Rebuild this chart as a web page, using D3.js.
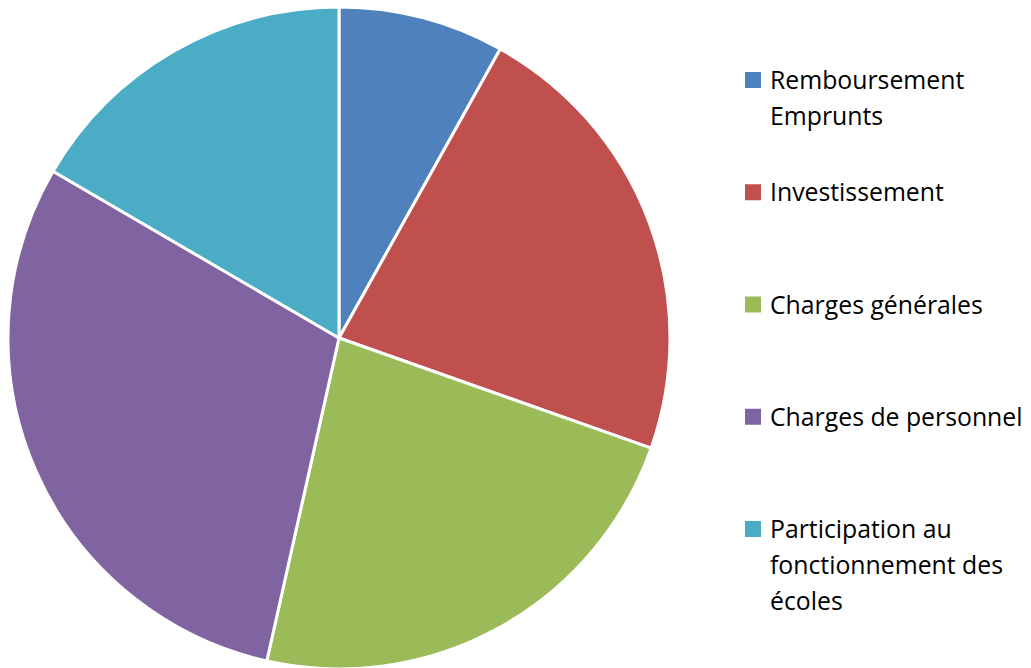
<!DOCTYPE html>
<html>
<head>
<meta charset="utf-8">
<script src="https://cdn.jsdelivr.net/npm/d3@7"></script>
<style>
  body { margin: 0; background: #fff; }
  svg { display: block; }
</style>
</head>
<body>
<div id="chart"></div>
<script>
// Data (shares in %)
const categories = ["Remboursement Emprunts", "Investissement", "Charges générales", "Charges de personnel", "Participation au fonctionnement des écoles"];
const values = [8.1, 22.3, 23.1, 29.9, 16.6];
const colors = ["#4F81BD", "#C0504D", "#9BBB59", "#8064A2", "#4BACC6"];
// legend labels as they wrap in the original
const legendLines = [["Remboursement", "Emprunts"], ["Investissement"], ["Charges générales"], ["Charges de personnel"], ["Participation au", "fonctionnement des", "écoles"]];

const width = 1031;
const height = 668;
const cx = 339, cy = 338, radius = 331;

const svg = d3.select("#chart")
  .append("svg")
  .attr("width", width)
  .attr("height", height);

const pie = d3.pie().sort(null).value(d => d);
const arc = d3.arc().innerRadius(0).outerRadius(radius);

svg.append("g")
  .attr("transform", `translate(${cx}, ${cy})`)
  .selectAll("path")
  .data(pie(values))
  .enter()
  .append("path")
  .attr("d", arc)
  .attr("fill", (_, i) => colors[i])
  .attr("stroke", "#fff")
  .attr("stroke-width", 3)
  .attr("stroke-linejoin", "round");

// Legend: first-line baselines spread evenly
const legendY = d3.scalePoint()
  .domain(categories)
  .range([89, 538]);
const lineH = 36;

const legend = svg.append("g")
  .selectAll("g")
  .data(categories)
  .enter()
  .append("g")
  .attr("transform", d => `translate(0, ${legendY(d)})`);

legend.append("rect")
  .attr("x", 745)
  .attr("y", -17)
  .attr("width", 16)
  .attr("height", 16)
  .attr("fill", (_, i) => colors[i]);

legend.append("text")
  .attr("x", 770)
  .attr("font-family", "'Open Sans', sans-serif")
  .attr("font-size", 24.8)
  .attr("fill", "#000")
  .selectAll("tspan")
  .data((_, i) => legendLines[i])
  .enter()
  .append("tspan")
  .attr("x", 770)
  .attr("y", (_, j) => j * lineH)
  .text(d => d);
</script>
</body>
</html>
